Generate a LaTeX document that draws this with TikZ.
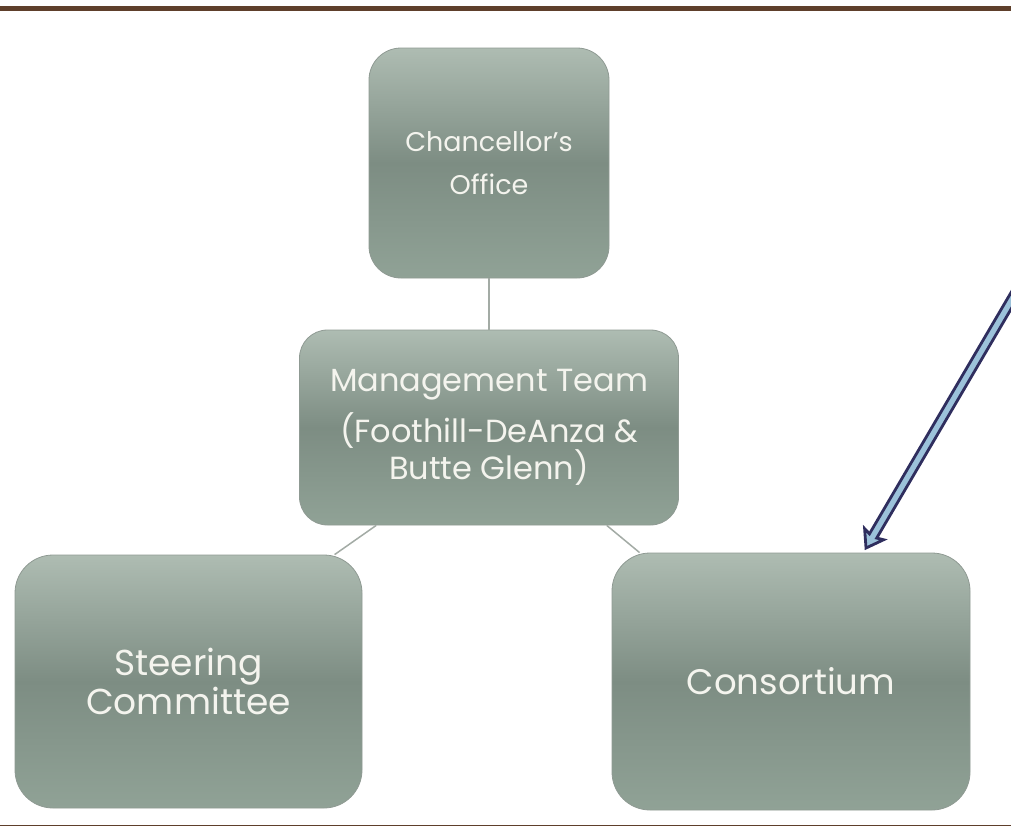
\documentclass[tikz,border=0pt]{standalone}
\usepackage{fontspec}
\setmainfont{Poppins}
\usetikzlibrary{calc}
\definecolor{framebrown}{HTML}{5E3F2B}
\definecolor{boxtop}{HTML}{AEBCB2}
\definecolor{boxmid}{HTML}{7D8D83}
\definecolor{boxbot}{HTML}{90A296}
\definecolor{boxedge}{HTML}{8F9A93}
\definecolor{linkgray}{HTML}{A3ABA5}
\definecolor{txt}{HTML}{F4F4EE}
\definecolor{arrnavy}{HTML}{2F2E5E}
\definecolor{arrblue}{HTML}{9CC2DA}
\tikzset{
  orgbox/.style={rectangle, draw=boxedge, line width=0.8pt, top color=boxtop, bottom color=boxbot, middle color=boxmid, text=txt, align=center, inner sep=0pt},
  link/.style={draw=linkgray, line width=1.5pt}
}
\begin{document}
\begin{tikzpicture}[x=1pt,y=-1pt]
\useasboundingbox (0,0) rectangle (1011,827);
\fill[white] (0,0) rectangle (1011,827);
\fill[framebrown] (0,6) rectangle (1011,10.5);
\draw[framebrown, line width=1.5pt] (0,825.5) -- (1011,825.5);

\node[orgbox, rounded corners=32pt, minimum width=240pt, minimum height=230pt, font=\fontsize{27}{43}\selectfont] (chan) at (489,163) {Chancellor's\\Office};
\node[orgbox, rounded corners=28pt, minimum width=379pt, minimum height=195pt, font=\fontsize{32}{35}\selectfont] (mgmt) at (489,427.5) {Management Team\\[11pt](Foothill-DeAnza \&\\Butte Glenn)};
\node[orgbox, rounded corners=38pt, minimum width=347pt, minimum height=253pt, font=\fontsize{36}{34}\selectfont] (steer) at (188.5,681.5) {Steering\\Committee};
\node[orgbox, rounded corners=38pt, minimum width=358pt, minimum height=257pt, font=\fontsize{35.5}{36}\selectfont] (cons) at (791,681.5) {Consortium};

\draw[link] (chan.south) -- (mgmt.north);
\coordinate (m1) at ($(mgmt.south west)!0.203!(mgmt.south east)$);
\coordinate (s1) at ($(steer.north west)!0.92!(steer.north east)$);
\coordinate (m2) at ($(mgmt.south west)!0.81!(mgmt.south east)$);
\coordinate (c1) at ($(cons.north west)!0.078!(cons.north east)$);
\draw[link] (m1) -- (s1);
\draw[link] (m2) -- (c1);

\coordinate (tip) at (866,548);
\begin{scope}
\clip (0,0) rectangle (1011,827);
\begin{scope}[shift={(tip)}, rotate=59.6]
\draw[arrnavy, fill=arrblue, line width=2.8pt, line join=miter]
  (0,0) -- (16,11) -- (14,4.2) -- (340,4.2) -- (340,-4.2) -- (14,-4.2) -- (16,-11) -- cycle;
\end{scope}
\end{scope}
\end{tikzpicture}
\end{document}
